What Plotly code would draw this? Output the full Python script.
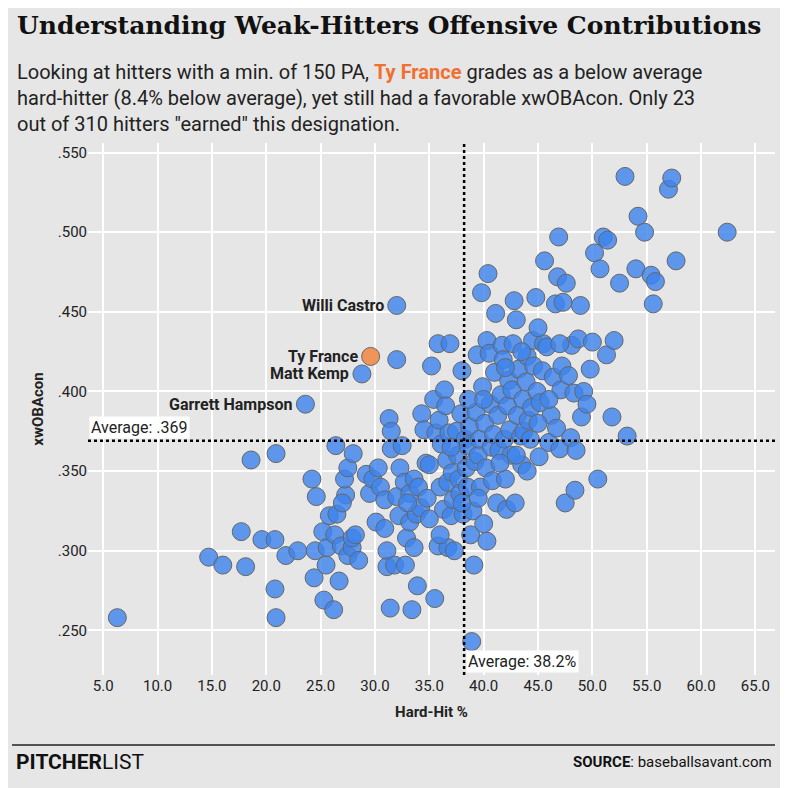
import plotly.graph_objects as go

# Hard-hit % and xwOBAcon per hitter
hard_hit = [6.3, 14.7, 16.0, 17.7, 18.1, 18.6, 19.6, 20.8, 20.9, 20.8, 20.9, 21.8, 22.9, 23.6, 24.2, 24.4, 24.6, 24.5,
            25.3, 25.2, 25.6, 25.5, 25.8, 26.2, 26.3, 26.5, 26.7, 26.4, 26.9, 27.3, 27.2, 27.5, 27.9, 27.5, 27.9, 28.2,
            28.0, 28.5, 28.8, 29.2, 29.5, 29.8, 30.1, 30.3, 30.5, 30.9, 30.9, 31.1, 31.1, 31.5, 31.3, 31.5, 31.4, 31.8,
            32.0, 32.0, 32.0, 32.2, 32.3, 32.5, 32.7, 32.8, 32.9, 33.2, 33.2, 33.4, 33.6, 33.6, 33.9, 33.8, 34.0, 34.2,
            34.3, 34.5, 34.7, 34.8, 35.0, 35.2, 35.4, 35.5, 35.6, 35.8, 35.8, 35.9, 36.0, 36.1, 36.3, 36.4, 36.5, 36.6,
            36.7, 36.7, 36.8, 36.9, 37.0, 37.1, 37.2, 37.3, 37.5, 37.6, 37.7, 37.8, 37.9, 38.0, 38.1, 38.3, 38.4, 38.5,
            38.5, 38.7, 38.8, 38.9, 39.0, 39.1, 39.2, 39.3, 39.4, 39.5, 39.6, 39.7, 39.8, 39.9, 40.0, 40.1, 40.2, 40.3,
            40.3, 40.4, 40.5, 40.6, 40.7, 40.8, 40.9, 41.0, 41.1, 41.2, 41.3, 41.4, 41.6, 41.7, 41.8, 41.9, 42.0, 42.1,
            42.2, 42.3, 42.4, 42.5, 42.6, 42.7, 42.8, 42.9, 43.0, 43.1, 43.2, 43.4, 43.5, 43.6, 43.7, 43.9, 44.0, 44.1,
            44.3, 44.4, 44.5, 44.6, 44.8, 44.9, 45.1, 45.2, 45.4, 45.5, 45.6, 45.8, 46.0, 46.2, 46.4, 46.6, 46.7, 46.8,
            46.9, 47.0, 47.1, 47.2, 47.3, 47.5, 47.6, 47.8, 48.0, 48.1, 48.3, 48.4, 48.5, 48.7, 48.9, 49.0, 49.2, 49.5,
            49.8, 50.0, 50.2, 50.5, 50.7, 51.0, 51.3, 51.4, 51.8, 52.0, 52.5, 53.0, 53.2, 54.0, 54.2, 54.8, 55.4, 55.6,
            55.8, 57.0, 57.3, 57.7, 62.4, 35.0, 33.0, 36.0, 38.0, 39.5, 41.5, 43.0, 44.0, 45.0, 46.0, 37.0, 38.6, 40.0,
            42.0, 43.5, 45.0, 47.0, 27.0]
xwoba_con = [.258, .296, .291, .312, .290, .357, .307, .307, .361, .276, .258, .297, .300, .392, .345, .283, .334, .300,
             .269, .312, .302, .291, .322, .263, .310, .323, .281, .366, .303, .335, .345, .297, .302, .352, .308, .310,
             .361, .294, .411, .348, .336, .345, .318, .352, .340, .314, .332, .300, .290, .364, .383, .375, .264, .291,
             .334, .454, .420, .322, .352, .366, .343, .291, .308, .336, .318, .263, .302, .345, .278, .323, .340, .327,
             .386, .376, .355, .333, .354, .416, .395, .270, .374, .303, .430, .382, .340, .367, .326, .401, .391, .357,
             .343, .302, .374, .430, .322, .349, .332, .300, .375, .360, .345, .336, .386, .413, .323, .370, .352, .366,
             .340, .378, .310, .243, .325, .291, .356, .387, .423, .360, .370, .340, .462, .403, .317, .380, .352, .432,
             .306, .474, .424, .392, .365, .344, .373, .412, .449, .330, .385, .363, .398, .429, .420, .370, .345, .326,
             .391, .407, .376, .360, .401, .430, .457, .330, .445, .385, .414, .372, .354, .395, .375, .406, .422, .382,
             .370, .390, .432, .416, .459, .400, .359, .393, .413, .430, .482, .428, .368, .385, .409, .455, .377, .472,
             .497, .364, .401, .416, .456, .330, .468, .410, .371, .429, .399, .338, .363, .433, .454, .384, .400, .392,
             .414, .431, .487, .345, .477, .497, .423, .495, .384, .432, .468, .535, .372, .477, .510, .500, .473, .455,
             .469, .527, .534, .482, .500, .320, .330, .310, .330, .333, .355, .360, .350, .380, .395, .365, .395, .395,
             .415, .425, .440, .430, .330]

highlight_x, highlight_y = [29.6], [.422]
labels = ["Willi Castro", "Ty France", "Matt Kemp", "Garrett Hampson"]
label_x = [32.0, 29.6, 28.8, 23.6]
label_y = [.454, .422, .411, .392]

avg_x, avg_y = 38.2, .369

# plot area in page pixels: left 88, top 143, width 687, height 532 (page has an 8px offset)
PW, PH = 687, 532


def px(x):
    return (x - 88) / PW


def py(y):
    return (675 - y) / PH


fig = go.Figure()
fig.add_trace(go.Scatter(
    x=hard_hit, y=xwoba_con, mode="markers",
    marker=dict(size=18, color="rgba(62,132,235,0.82)", line=dict(width=1, color="#666")),
    hoverinfo="skip"))
fig.add_trace(go.Scatter(
    x=highlight_x, y=highlight_y, mode="markers",
    marker=dict(size=18, color="#f0955a", line=dict(width=1, color="#666"))))

for name, lx, ly in zip(labels, label_x, label_y):
    fig.add_annotation(x=lx, y=ly, text="<b>" + name + "</b>", showarrow=False,
                       xanchor="right", xshift=-11, font=dict(size=16, color="#222"))

fig.add_shape(type="line", x0=avg_x, x1=avg_x, y0=0, y1=1, yref="paper",
              line=dict(color="black", width=2.5, dash="dot"))
fig.add_shape(type="line", y0=avg_y, y1=avg_y, x0=0, x1=1, xref="paper",
              line=dict(color="black", width=2.5, dash="dot"))
fig.add_annotation(x=0, xref="paper", y=avg_y, text="Average: .369", showarrow=False,
                   xanchor="left", yanchor="bottom", yshift=2, xshift=1, bgcolor="white",
                   font=dict(size=16, color="#222"))
fig.add_annotation(x=avg_x, y=0, yref="paper", text="Average: 38.2%", showarrow=False,
                   xanchor="left", yanchor="bottom", xshift=2, yshift=2, bgcolor="white",
                   font=dict(size=16, color="#222"))

fig.add_annotation(x=px(15), xref="paper", xanchor="left", y=py(58), yref="paper", yanchor="top",
                   text="Looking at hitters with a min. of 150 PA, <b><span style='color:#f07030'>Ty France</span></b> grades as a below average<br>"
                        "hard-hitter (8.4% below average), yet still had a favorable xwOBAcon. Only 23<br>"
                        "out of 310 hitters \"earned\" this designation.",
                   showarrow=False, align="left", font=dict(size=20, color="#222"))

fig.add_shape(type="line", xref="paper", yref="paper", x0=px(12), x1=px(775),
              y0=py(745), y1=py(745), line=dict(color="#222", width=1.5))
fig.add_annotation(xref="paper", yref="paper", x=px(14), y=py(762), xanchor="left", yanchor="middle",
                   text="<b>PITCHER</b>LIST", showarrow=False, font=dict(size=21, color="#111"))
fig.add_annotation(xref="paper", yref="paper", x=px(774), y=py(762), xanchor="right", yanchor="middle",
                   text="<b>SOURCE</b>: baseballsavant.com", showarrow=False, font=dict(size=15, color="#111"))

fig.update_layout(
    width=796, height=796, showlegend=False,
    paper_bgcolor="#e6e6e6", plot_bgcolor="#e6e6e6",
    margin=dict(l=80, r=29, t=135, b=129),
    font=dict(family="Roboto, Arial, sans-serif", color="#222"),
    title=dict(text="<b>Understanding Weak-Hitters Offensive Contributions</b>",
               x=9 / 796, xanchor="left", y=1 - 8 / 796, yanchor="top",
               font=dict(family="DejaVu Serif", size=25, color="#111")),
    xaxis=dict(range=[3.6, 66.8], tick0=5, dtick=5, tickformat=".1f", showgrid=True, gridcolor="white",
               gridwidth=1.5, zeroline=False, tickfont=dict(size=15),
               title=dict(text="<b>Hard-Hit %</b>", font=dict(size=15), standoff=12)),
    yaxis=dict(range=[.222, .556], showgrid=True, gridcolor="white",
               tickvals=[.25, .30, .35, .40, .45, .50, .55],
               ticktext=[".250", ".300", ".350", ".400", ".450", ".500", ".550"],
               gridwidth=1.5, zeroline=False, tickfont=dict(size=15),
               title=dict(text="<b>xwOBAcon</b>", font=dict(size=15), standoff=10)),
)

fig.write_html("out.html")
